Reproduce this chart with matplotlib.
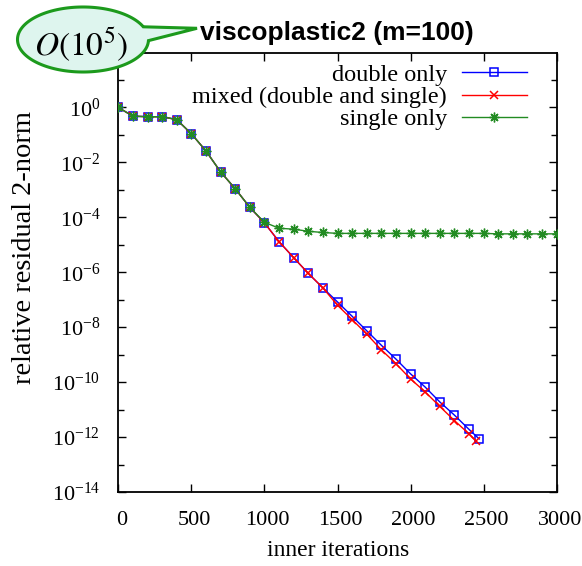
import numpy as np
import matplotlib
matplotlib.use("Agg")
import matplotlib.pyplot as plt
import matplotlib.transforms as mtransforms
from matplotlib.patches import Polygon
from matplotlib.ticker import FixedLocator, NullFormatter

# ---------------- data ----------------
iters_double = [0, 100, 200, 300, 400, 500, 600, 700, 800, 900, 1000, 1100, 1200,
                1300, 1400, 1500, 1600, 1700, 1800, 1900, 2000, 2100, 2200, 2300,
                2400, 2470]
res_double = [1.0, 0.48, 0.46, 0.46, 0.36, 0.11, 2.6e-2, 4.5e-3, 1.1e-3, 2.3e-4,
              6.3e-5, 1.3e-5, 3.4e-6, 9.1e-7, 2.7e-7, 8.3e-8, 2.5e-8, 7.4e-9,
              2.2e-9, 6.9e-10, 2.0e-10, 6.6e-11, 1.9e-11, 6.3e-12, 1.9e-12, 8.5e-13]

iters_mixed = [0, 100, 200, 300, 400, 500, 600, 700, 800, 900, 1000, 1100, 1200,
               1300, 1400, 1500, 1600, 1700, 1800, 1900, 2000, 2100, 2200, 2300,
               2400, 2450]
res_mixed = [1.0, 0.48, 0.46, 0.46, 0.36, 0.11, 2.6e-2, 4.5e-3, 1.1e-3, 2.3e-4,
             6.3e-5, 1.3e-5, 3.4e-6, 9.1e-7, 2.7e-7, 6.3e-8, 1.9e-8, 5.6e-9,
             1.5e-9, 4.7e-10, 1.3e-10, 4.4e-11, 1.3e-11, 4.0e-12, 1.3e-12, 7.0e-13]

iters_single = [0, 100, 200, 300, 400, 500, 600, 700, 800, 900, 1000, 1100, 1200,
                1300, 1400, 1500, 1600, 1700, 1800, 1900, 2000, 2100, 2200, 2300,
                2400, 2500, 2600, 2700, 2800, 2900, 3000]
res_single = [1.0, 0.48, 0.46, 0.46, 0.36, 0.11, 2.6e-2, 4.5e-3, 1.1e-3, 2.3e-4,
              6.6e-5, 4.0e-5, 3.7e-5, 3.1e-5, 2.8e-5, 2.6e-5, 2.6e-5, 2.6e-5,
              2.6e-5, 2.6e-5, 2.6e-5, 2.6e-5, 2.6e-5, 2.6e-5, 2.6e-5, 2.6e-5,
              2.5e-5, 2.5e-5, 2.5e-5, 2.5e-5, 2.5e-5]

labels = ["double only", "mixed (double and single)", "single only"]
x_ticks = [0, 500, 1000, 1500, 2000, 2500, 3000]
y_exponents_major = [0, -2, -4, -6, -8, -10, -12, -14]
y_exponents_minor = [1, -1, -3, -5, -7, -9, -11, -13]
title_text = "viscoplastic2 (m=100)"
bubble_text = r"$O(10^5)$"
xlabel_text = "inner iterations"
ylabel_text = "relative residual 2-norm"

# ---------------- style ----------------
plt.rcParams["font.family"] = ["Liberation Serif", "DejaVu Serif"]
plt.rcParams["mathtext.fontset"] = "custom"
plt.rcParams["mathtext.rm"] = "Liberation Serif"
plt.rcParams["mathtext.it"] = "Liberation Serif:italic"

W, H = 582, 566
fig = plt.figure(figsize=(W / 100, H / 100), dpi=100)
ax_left, ax_right, ax_top, ax_bottom = 118.3, 556.7, 52.5, 492.0
ax = fig.add_axes([ax_left / W, 1 - ax_bottom / H,
                   (ax_right - ax_left) / W, (ax_bottom - ax_top) / H])

blue = "#0000ff"
red = "#ff0000"
green = "#228b22"

ax.plot(iters_double, res_double, color=blue, lw=1.0, marker="s", ms=5.5,
        mfc="none", mec=blue, mew=1.1, label=labels[0], zorder=3)
ax.plot(iters_mixed, res_mixed, color=red, lw=1.0, marker="x", ms=5.5,
        mew=1.1, label=labels[1], zorder=4)
ax.plot(iters_single, res_single, color=green, lw=1.0, marker=(8, 2, 0), ms=7,
        mew=1.0, label=labels[2], zorder=5)

ax.set_yscale("log")
ax.set_xlim(0, 3000)
ax.set_ylim(1e-14, 1e2)

ax.xaxis.set_major_locator(FixedLocator(x_ticks))
ax.set_xticklabels([str(v) for v in x_ticks])
ax.yaxis.set_major_locator(FixedLocator([10.0 ** e for e in y_exponents_major]))
ax.set_yticklabels([r"$10^{%d}$" % e for e in y_exponents_major])
ax.yaxis.set_minor_locator(FixedLocator([10.0 ** e for e in y_exponents_minor]))
ax.yaxis.set_minor_formatter(NullFormatter())

ax.tick_params(axis="both", which="major", direction="in", length=6, width=1.0,
               top=True, right=True, labelsize=16)
ax.tick_params(axis="y", which="minor", direction="in", length=4, width=1.0,
               left=True, right=True)
ax.tick_params(axis="y", which="major", pad=13)
ax.tick_params(axis="x", which="major", pad=14)
shift = mtransforms.ScaledTranslation(3 / 100, 0, fig.dpi_scale_trans)
for lbl in ax.get_xticklabels():
    lbl.set_transform(lbl.get_transform() + shift)
for s in ax.spines.values():
    s.set_linewidth(1.3)

leg = ax.legend(loc="upper right", bbox_to_anchor=(0.955, 0.996),
                frameon=False, markerfirst=False, numpoints=1, fontsize=17.5,
                handlelength=2.7, handletextpad=0.6, labelspacing=0.0,
                borderaxespad=0.0)

fig.text(338 / W, 1 - 551 / H, xlabel_text, ha="center", va="center", fontsize=17)
fig.text(25 / W, 1 - 247 / H, ylabel_text, ha="center", va="center",
         rotation=90, fontsize=20.5)

fig.text(337 / W, 1 - 33 / H, title_text, ha="center", va="center",
         fontsize=19, fontweight="bold",
         family=["Liberation Sans Narrow", "Liberation Sans", "DejaVu Sans"])

# speech bubble
cx, cy, rx, ry = 83.0, 39.5, 65.5, 32.5
t = np.radians(np.linspace(23, 358, 200))
ex = cx + rx * np.cos(t)
ey = cy - ry * np.sin(t)
px = np.concatenate([ex, [197.0]])
py = np.concatenate([ey, [28.3]])
pts = np.column_stack([px / W, 1 - py / H])
bubble = Polygon(pts, closed=True, transform=fig.transFigure,
                 facecolor="#def5ee", edgecolor="#1c9a1c", lw=2.2, zorder=10)
fig.patches.append(bubble)
fig.text(81 / W, 1 - 45 / H, bubble_text, ha="center", va="center",
         fontsize=24, math_fontfamily="stix", zorder=11)

fig.savefig("out.png", dpi=100)
